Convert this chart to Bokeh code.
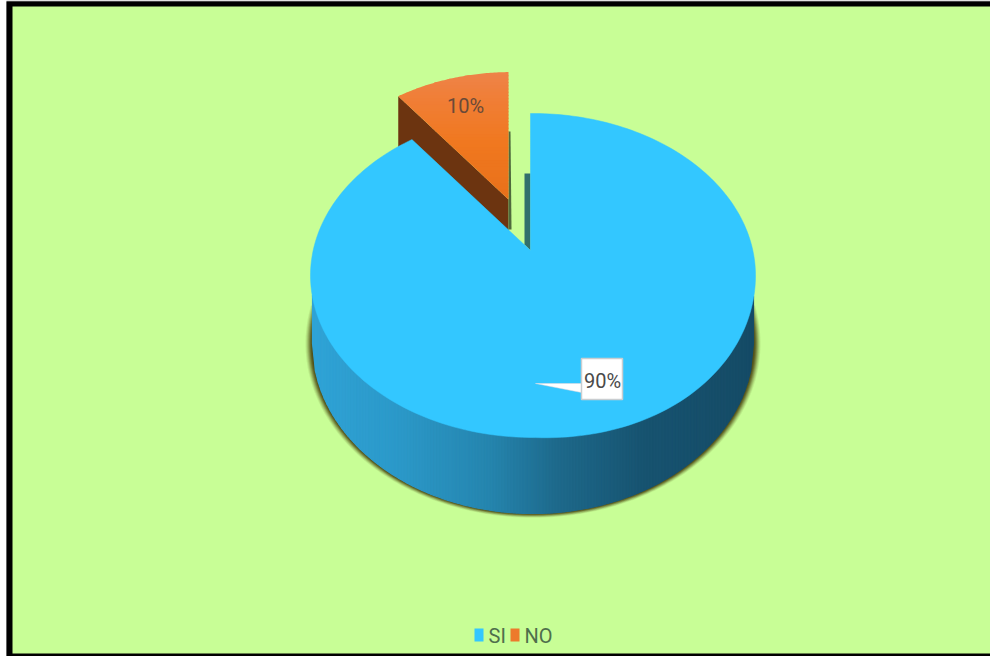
import numpy as np
from bokeh.core.properties import value
from bokeh.embed import file_html
from bokeh.models import Range1d
from bokeh.plotting import figure
from bokeh.resources import INLINE

# Chart content
categories = ["SI", "NO"]
shares = [90, 10]
slice_colors = ["#33c7ff", "#ed7a2c"]

# Page colours
PAGE_BG = "#c8fe96"
FONT = value("Roboto")

# Disc geometry in page pixels
TOP = dict(cx=532.5, cy=275.0, rx=222.5, ry=162.0)
BOTTOM = dict(cx=532.5, cy=343.0, rx=220.5, ry=170.0)
PIVOT = np.array([530.0, 250.0])
TILT = 0.68
PULLED_PIVOT = np.array([508.0, 199.0])
PULLED_SCALE = 0.93
PULLED_DEPTH = 62.0
SAG = 9.0

p = figure(width=990, height=656, output_backend="svg", toolbar_location=None,
           x_range=Range1d(0, 990), y_range=Range1d(656, 0),
           min_border=0, outline_line_color=None, background_fill_color="white")
p.axis.visible = False
p.grid.visible = False


def half_height(e, x):
    u = np.clip((x - e["cx"]) / e["rx"], -1, 1)
    return np.sqrt(1 - u * u)


def front_sag(x, s):
    """Small downward bulge of the near right quadrant of the rim."""
    u = (x - TOP["cx"]) / TOP["rx"]
    return SAG * max(u, 0.0) * max(s, 0.0)


def rim(theta_deg):
    """Point where the ray at a pie angle (clockwise from twelve o'clock) meets the top rim."""
    t = np.radians(theta_deg)
    d = np.array([np.sin(t), -np.cos(t) * TILT])
    ox = (PIVOT[0] - TOP["cx"]) / TOP["rx"]
    oy = (PIVOT[1] - TOP["cy"]) / TOP["ry"]
    dx = d[0] / TOP["rx"]
    dy = d[1] / TOP["ry"]
    a = dx * dx + dy * dy
    b = 2 * (ox * dx + oy * dy)
    c = ox * ox + oy * oy - 1
    k = (-b + np.sqrt(b * b - 4 * a * c)) / (2 * a)
    q = PIVOT + k * d
    q[1] += front_sag(q[0], (q[1] - TOP["cy"]) / TOP["ry"])
    return q


def arc(start, stop, n=240):
    return np.array([rim(v) for v in np.linspace(start, stop, n)])


def lerp_color(stops, u):
    xs = [s[0] for s in stops]
    rgb = [np.interp(u, xs, [int(s[1][i:i + 2], 16) for s in stops]) for i in (1, 3, 5)]
    return "#%02x%02x%02x" % tuple(int(round(c)) for c in rgb)


def clip_band(poly, y0, y1):
    """Cut a polygon down to a horizontal band."""
    def cut(points, keep, cross):
        out = []
        for i in range(len(points)):
            a, b = points[i], points[(i + 1) % len(points)]
            if keep(a):
                out.append(a)
            if keep(a) != keep(b):
                f = (cross - a[1]) / (b[1] - a[1])
                out.append(a + f * (b - a))
        return out
    pts = cut(list(poly), lambda q: q[1] >= y0, y0)
    if pts:
        pts = cut(pts, lambda q: q[1] <= y1, y1)
    return pts


# Frame and background
p.quad(left=[6], right=[990], top=[0], bottom=[656], fill_color="#8a8a8a", line_color=None)
p.quad(left=[6], right=[990], top=[1], bottom=[656], fill_color="black", line_color=None)
p.quad(left=[12], right=[990], top=[6], bottom=[653], fill_color=PAGE_BG, line_color=None)

# Soft shadow under the near half of the disc wall
angles = np.linspace(-0.22, np.pi + 0.22, 200)
for grow, alpha in [(7, 0.10), (6, 0.14), (5, 0.2), (4, 0.28), (3, 0.4), (2, 0.55), (1, 0.65)]:
    p.patch(BOTTOM["cx"] + (BOTTOM["rx"] + grow) * np.cos(angles),
            BOTTOM["cy"] + (BOTTOM["ry"] + grow * 0.6) * np.sin(angles),
            fill_color="#4f4a14", fill_alpha=alpha, line_color=None)

# Disc wall shaded from left to right
wall_stops = [(0.0, "#2fa3d6"), (0.2, "#2b98c8"), (0.4, "#2585ae"), (0.55, "#1e6a8c"),
              (0.75, "#175370"), (1.0, "#154b66")]
edges = np.linspace(TOP["cx"] - BOTTOM["rx"], TOP["cx"] + BOTTOM["rx"], 150)


def wall_top(x):
    s = half_height(TOP, x)
    return TOP["cy"] + TOP["ry"] * s + front_sag(x, s) - 2


xs, ys, colors = [], [], []
for x0, x1 in zip(edges[:-1], edges[1:]):
    y_bot0 = BOTTOM["cy"] + BOTTOM["ry"] * half_height(BOTTOM, x0)
    y_bot1 = BOTTOM["cy"] + BOTTOM["ry"] * half_height(BOTTOM, x1)
    xs.append([x0, x1, x1, x0])
    ys.append([wall_top(x0), wall_top(x1), y_bot1, y_bot0])
    colors.append(lerp_color(wall_stops, (x0 - edges[0]) / (edges[-1] - edges[0])))
p.patches(xs, ys, fill_color=colors, line_color=colors, line_width=1.2)

# Pie angles derived from the shares
total = sum(shares)
big_sweep = 360.0 * shares[0] / total

# Pulled-out slice: wall first, then the shaded top
pulled_rim = (arc(big_sweep, 360, 60) - PIVOT) * PULLED_SCALE + PULLED_PIVOT
p.patch([pulled_rim[0][0], PULLED_PIVOT[0], PULLED_PIVOT[0], pulled_rim[0][0]],
        [pulled_rim[0][1], PULLED_PIVOT[1], PULLED_PIVOT[1] + PULLED_DEPTH,
         pulled_rim[0][1] + PULLED_DEPTH],
        fill_color="#6c3410", line_color=None)
p.patch([PULLED_PIVOT[0], PULLED_PIVOT[0] + 2, PULLED_PIVOT[0] + 3, PULLED_PIVOT[0]],
        [PULLED_PIVOT[1] - 68, PULLED_PIVOT[1] - 68, PULLED_PIVOT[1] + 30, PULLED_PIVOT[1] + 30],
        fill_color="#4f6a3c", line_color=None)

outline = np.vstack([PULLED_PIVOT, pulled_rim])
orange_stops = [(0.0, "#ee8348"), (0.2, "#f07e36"), (0.55, "#f0781f"), (1.0, "#e8701a")]
y_low, y_high = outline[:, 1].min(), outline[:, 1].max()
bands = np.linspace(y_low, y_high, 40)
xs, ys, colors = [], [], []
for b0, b1 in zip(bands[:-1], bands[1:]):
    piece = clip_band(outline, b0, b1 + 1.0)
    if len(piece) >= 3:
        xs.append([q[0] for q in piece])
        ys.append([q[1] for q in piece])
        colors.append(lerp_color(orange_stops, (b0 - y_low) / (y_high - y_low)))
p.patches(xs, ys, fill_color=colors, line_color=None)

# Shaded inner face beside the gap
p.patch([PIVOT[0] - 6, PIVOT[0], PIVOT[0], PIVOT[0] - 6],
        [PIVOT[1] - 77, PIVOT[1] - 77, PIVOT[1], PIVOT[1] - 6],
        fill_color="#326f6c", line_color=None)

# Large slice top face
big_rim = arc(0, big_sweep)
big = np.vstack([PIVOT, big_rim])
p.patch(big[:, 0], big[:, 1], fill_color=slice_colors[0], line_color=slice_colors[0], line_width=0.5)

# Value labels
p.patch([535, 581, 581], [383, 383, 392], fill_color="white", line_color="#e6d8dc", line_width=0.5)
p.quad(left=[581], right=[622], top=[358], bottom=[399], fill_color="white",
       line_color="#c9cdd0", line_width=1.5)
p.text(x=[602], y=[380], text=[f"{shares[0]}%"], text_font=FONT, text_font_size="20px",
       text_color="#4a4a4a", text_align="center", text_baseline="middle")
p.text(x=[465], y=[105], text=[f"{shares[1]}%"], text_font=FONT, text_font_size="20px",
       text_color="#6a4a38", text_align="center", text_baseline="middle")

# Legend along the bottom edge
legend_x = [474, 510]
p.quad(left=legend_x, right=[x + 9 for x in legend_x], top=[628] * 2, bottom=[641] * 2,
       fill_color=slice_colors, line_color=None)
p.text(x=[x + 14 for x in legend_x], y=[635, 635], text=categories, text_font=FONT,
       text_font_size="20px", text_color="#4f6f4c", text_align="left", text_baseline="middle")

open("out.html", "w").write(file_html(p, INLINE))
